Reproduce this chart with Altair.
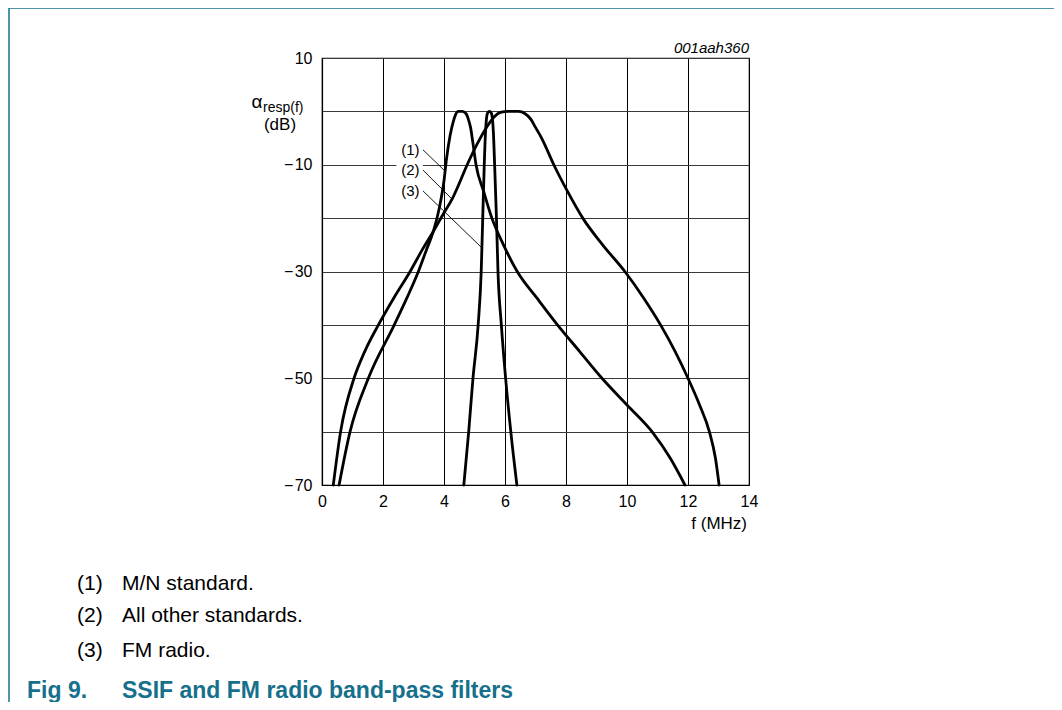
import altair as alt
import pandas as pd

# ---- data ----
mn_f = [0.56, 0.92, 1.52, 2.37, 2.78, 3.16, 3.42, 3.65, 3.85, 4.0, 4.08, 4.2, 4.3, 4.38, 4.47,
        4.6, 4.72, 4.8, 4.87, 4.95, 5.05, 5.3, 5.57, 5.95, 6.4, 7.05, 7.72, 8.45, 9.18, 10.0,
        10.82, 11.42, 11.9]
mn_db = [-70, -60, -50, -40, -35, -30, -26, -22.5, -18, -13, -9, -4.5, -2, -0.6, 0,
         0, -0.4, -1.5, -3, -6, -10, -15, -20, -25, -30, -35, -40, -45, -50, -55,
         -60, -65, -70]

other_f = [0.37, 0.61, 1.05, 1.4, 1.85, 2.35, 2.89, 3.28, 3.65, 4.0, 4.26, 4.5, 4.76, 5.19,
           5.45, 5.65, 5.85, 6.1, 6.45, 6.65, 6.85, 7.0, 7.2, 7.6, 8.05, 8.55, 9.2, 9.93,
           10.55, 11.1, 11.58, 12.0, 12.38, 12.7, 12.9, 13.02]
other_db = [-70, -60, -50, -45, -40, -35, -30, -26, -22.5, -19, -16.5, -13.5, -10, -5,
            -2.5, -1, -0.2, 0, 0, -0.4, -1.5, -3, -5, -10, -15, -20, -25, -30,
            -35, -40, -45, -50, -55, -60, -65, -70]

fm_f = [4.65, 4.81, 4.95, 5.12, 5.22, 5.27, 5.32, 5.36, 5.39, 5.43, 5.49, 5.55, 5.59, 5.62,
        5.66, 5.72, 5.77, 5.88, 6.02, 6.19, 6.39]
fm_db = [-70, -60, -50, -40, -30, -20, -10, -4, -1.5, -0.3, 0, -0.3, -1.5, -4,
         -10, -20, -30, -40, -50, -60, -70]

x_ticks = [0, 2, 4, 6, 8, 10, 12, 14]
y_ticks = [10, 0, -10, -20, -30, -40, -50, -60, -70]
y_labelled = [10, -10, -30, -50, -70]

curve_labels = ["(1)", "(2)", "(3)"]
label_f = [2.90, 2.90, 2.90]
label_db = [-7.2, -11.0, -14.9]
leader_f0 = [3.31, 3.31, 3.31]
leader_db0 = [-7.2, -11.0, -14.9]
leader_f1 = [4.0, 4.24, 5.23]
leader_db1 = [-11.0, -16.3, -25.5]
mask_f = [2.44, 3.31]
mask_db = [-10.7, -9.3]

note_nums = ["(1)", "(2)", "(3)"]
notes = ["M/N standard.", "All other standards.", "FM radio."]
fig_no = "Fig 9."
fig_title = "SSIF and FM radio band-pass filters"
code = "001aah360"

TEAL = "#16708c"
FONT = "Liberation Sans"

curves = pd.concat([
    pd.DataFrame({"f": mn_f, "db": mn_db, "s": "1"}),
    pd.DataFrame({"f": other_f, "db": other_db, "s": "2"}),
    pd.DataFrame({"f": fm_f, "db": fm_db, "s": "3"}),
], ignore_index=True)

xs = alt.Scale(domain=[0, 14], nice=False, zero=False)
ys = alt.Scale(domain=[-70, 10], nice=False, zero=False)

lab_list = ",".join(str(v) for v in y_labelled)
y_expr = ("indexof([" + lab_list + "], datum.value) >= 0 ? "
          "(datum.value < 0 ? '\u2212\u200a' + abs(datum.value) : '' + datum.value) : ''")

x_axis = alt.Axis(values=x_ticks, grid=True, gridColor="black", gridWidth=1, ticks=False,
                  domainColor="black", domainWidth=1.2, labelFontSize=16, labelFont=FONT,
                  labelColor="black", labelPadding=8, title=None, labelFlush=False)
y_axis = alt.Axis(values=y_ticks, grid=True, gridColor="#3a3a3a", gridWidth=1.2, ticks=False,
                  domainColor="black", domainWidth=1.2, labelFontSize=16, labelFont=FONT,
                  labelColor="black", labelPadding=10, title=None, labelExpr=y_expr)

lines = alt.Chart(curves).mark_line(color="black", strokeWidth=2.8, interpolate="monotone",
                                    strokeCap="round").encode(
    x=alt.X("f:Q", scale=xs, axis=x_axis),
    y=alt.Y("db:Q", scale=ys, axis=y_axis),
    detail="s:N",
)

mask = alt.Chart(pd.DataFrame({"f": [mask_f[0]], "f2": [mask_f[1]],
                               "db": [mask_db[0]], "db2": [mask_db[1]]})).mark_rect(
    color="white").encode(x="f:Q", x2="f2", y="db:Q", y2="db2")

labels = alt.Chart(pd.DataFrame({"f": label_f, "db": label_db, "t": curve_labels})).mark_text(
    font=FONT, fontSize=15, color="black", align="center", baseline="middle").encode(
    x="f:Q", y="db:Q", text="t:N")

leaders = alt.Chart(pd.DataFrame({"f": leader_f0, "db": leader_db0,
                                  "f2": leader_f1, "db2": leader_db1})).mark_rule(
    color="black", strokeWidth=0.9).encode(x="f:Q", y="db:Q", x2="f2", y2="db2")

one = pd.DataFrame({"k": [0]})


def txt(t, x, y, size, align="left", baseline="alphabetic", weight="normal",
        style="normal", color="black"):
    return alt.Chart(one).mark_text(text=t, font=FONT, fontSize=size, align=align,
                                    baseline=baseline, fontWeight=weight, fontStyle=style,
                                    color=color).encode(x=alt.value(x), y=alt.value(y))


texts = [
    txt(code, 427, -5, 15, align="right", style="italic"),
    txt("\u03b1", -65, 50, 19, align="center"),
    txt("resp(f)", -59, 54, 14),
    txt("(dB)", -42, 72, 17, align="center"),
    txt("f (MHz)", 425, 471, 17, align="right"),
]
note_y = [532, 564, 599]
for n, t, yy in zip(note_nums, notes, note_y):
    texts.append(txt(n, -245, yy, 21))
    texts.append(txt(t, -200, yy, 21))
texts.append(txt(fig_no, -295, 640, 23, weight="bold", color=TEAL))
texts.append(txt(fig_title, -200, 640, 23, weight="bold", color=TEAL))

border_left = alt.Chart(one).mark_rule(color=TEAL, strokeWidth=1.5).encode(
    x=alt.value(-313), y=alt.value(-50), y2=alt.value(700))
border_top = alt.Chart(one).mark_rule(color=TEAL, strokeWidth=1.5).encode(
    x=alt.value(-313), x2=alt.value(760), y=alt.value(-50))

chart = alt.layer(mask, lines, leaders, labels, border_left, border_top, *texts).properties(
    width=427, height=427,
    autosize=alt.AutoSizeParams(type="none"),
    padding={"left": 314, "top": 50, "right": 305, "bottom": 217},
    background="white",
).configure_view(stroke="black", strokeWidth=1.2)

chart.save("out.html", embed_options={"renderer": "svg", "actions": False})
